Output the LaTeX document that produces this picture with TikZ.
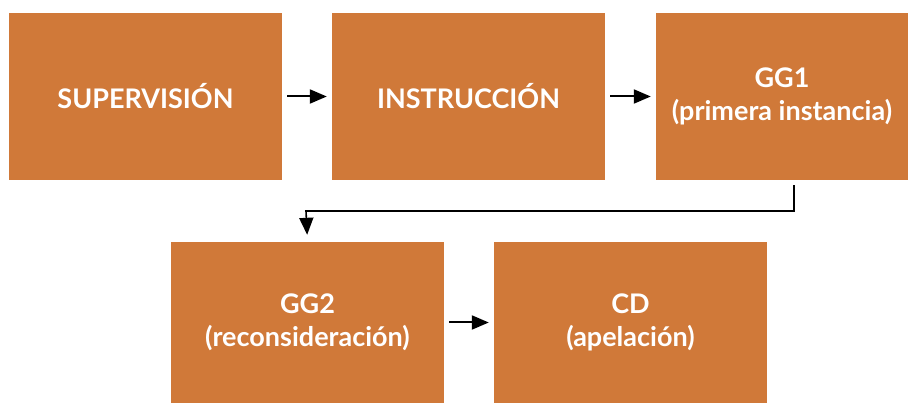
\documentclass[tikz,border=0pt]{standalone}
\usepackage{fontspec}
\setmainfont{Lato}
\usetikzlibrary{arrows.meta}
\definecolor{caja}{RGB}{208,121,57}
\tikzset{
	etapa/.style={fill=caja,text=white,font=\bfseries\fontsize{27}{33}\selectfont,align=center,inner sep=0pt,minimum width=273pt,minimum height=167pt},
	flecha/.style={-{Triangle[length=17pt,width=14pt]},line width=2pt,shorten <=5pt,shorten >=5pt}
}
\begin{document}
\begin{tikzpicture}[x=1pt,y=-1pt]
		\useasboundingbox (0,0) rectangle (919,403);
		\node[etapa] (sup) at (145.5,96.5) {SUPERVISIÓN};
		\node[etapa] (inst) at (468.5,96.5) {INSTRUCCIÓN};
		\node[etapa,minimum width=252pt] (gg1) at (782,96.5) {GG1\\(primera instancia)};
		\node[etapa,minimum height=161pt] (gg2) at (307.5,322.5) {GG2\\(reconsideración)};
		\node[etapa,minimum height=161pt] (cd) at (630.5,322.5) {CD\\(apelación)};
		\path[flecha] (sup) edge (inst)
			(inst) edge (gg1)
			(gg2) edge (cd);
		\draw[flecha,line width=1.6pt,shorten >=7pt] ([xshift=12pt]gg1.south) |- (306,211) -- (gg2.north);
	\end{tikzpicture}
\end{document}
